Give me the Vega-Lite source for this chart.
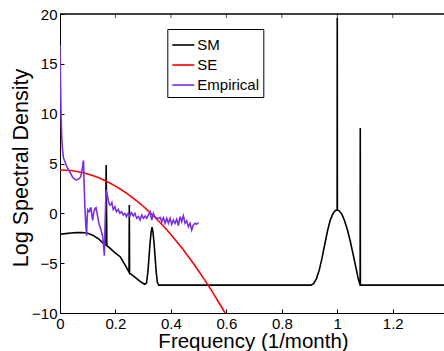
{
  "$schema": "https://vega.github.io/schema/vega-lite/v6.json",
  "width": 384,
  "height": 299,
  "autosize": {"type": "none"},
  "padding": {"left": 60, "top": 14, "right": 0, "bottom": 38},
  "background": "white",
  "config": {
    "font": "Liberation Sans",
    "view": {"stroke": null},
    "axis": {"grid": false, "domainColor": "black", "tickColor": "black", "labelColor": "black", "titleColor": "black", "titleFontWeight": "normal", "labelFontSize": 15, "domainWidth": 1, "tickWidth": 1},
    "legend": {"orient": "none", "legendX": 107.3, "legendY": 15, "strokeColor": "black", "fillColor": "white", "padding": 4, "symbolType": "stroke", "symbolSize": 484, "symbolStrokeWidth": 1.6, "labelFontSize": 15, "labelColor": "black", "labelOffset": 2, "rowPadding": 0}
  },
  "datasets": {
    "sm": [
      {"f":0,"v":-2.1},{"f":0.02,"v":-2.04},{"f":0.04,"v":-1.98},{"f":0.06,"v":-1.94},{"f":0.08,"v":-1.93},{"f":0.1,"v":-2.0},{"f":0.12,"v":-2.22},{"f":0.14,"v":-2.58},{"f":0.155,"v":-2.98},{"f":0.164,"v":-3.15},{"f":0.1665,"v":4.85},{"f":0.169,"v":-3.25},{"f":0.18,"v":-3.5},{"f":0.2,"v":-4.0},{"f":0.217,"v":-4.35},{"f":0.235,"v":-5.2},{"f":0.249,"v":-5.9},{"f":0.25,"v":0.83},{"f":0.251,"v":-6.0},{"f":0.27,"v":-6.4},{"f":0.29,"v":-6.86},{"f":0.305,"v":-7.12},{"f":0.312,"v":-7.0},{"f":0.317,"v":-5.9},{"f":0.321,"v":-4.4},{"f":0.325,"v":-2.9},{"f":0.329,"v":-1.8},{"f":0.332,"v":-1.4},{"f":0.335,"v":-1.8},{"f":0.339,"v":-2.9},{"f":0.343,"v":-4.4},{"f":0.347,"v":-5.9},{"f":0.351,"v":-6.9},{"f":0.356,"v":-7.2},{"f":0.905,"v":-7.2},{"f":0.915,"v":-7.05},{"f":0.925,"v":-6.55},{"f":0.935,"v":-5.7},{"f":0.945,"v":-4.5},{"f":0.955,"v":-3.1},{"f":0.965,"v":-1.75},{"f":0.975,"v":-0.65},{"f":0.985,"v":0.0},{"f":0.993,"v":0.28},{"f":0.9995,"v":0.33},{"f":1.0,"v":19.6},{"f":1.0005,"v":0.33},{"f":1.007,"v":0.25},{"f":1.017,"v":-0.1},{"f":1.027,"v":-0.8},{"f":1.037,"v":-1.7},{"f":1.047,"v":-2.8},{"f":1.057,"v":-4.1},{"f":1.067,"v":-5.4},{"f":1.076,"v":-6.6},{"f":1.0825,"v":-7.2},{"f":1.083,"v":8.56},{"f":1.0835,"v":-7.2},{"f":1.385,"v":-7.2}
    ],
    "se": [
      {"f":0,"v":4.35},{"f":0.02,"v":4.33},{"f":0.04,"v":4.29},{"f":0.06,"v":4.2},{"f":0.08,"v":4.09},{"f":0.1,"v":3.95},{"f":0.12,"v":3.77},{"f":0.14,"v":3.56},{"f":0.16,"v":3.31},{"f":0.18,"v":3.04},{"f":0.2,"v":2.73},{"f":0.22,"v":2.39},{"f":0.24,"v":2.02},{"f":0.26,"v":1.61},{"f":0.28,"v":1.18},{"f":0.3,"v":0.71},{"f":0.32,"v":0.2},{"f":0.34,"v":-0.33},{"f":0.36,"v":-0.9},{"f":0.38,"v":-1.5},{"f":0.4,"v":-2.13},{"f":0.42,"v":-2.79},{"f":0.44,"v":-3.49},{"f":0.46,"v":-4.22},{"f":0.48,"v":-4.98},{"f":0.5,"v":-5.78},{"f":0.52,"v":-6.6},{"f":0.54,"v":-7.46},{"f":0.56,"v":-8.35},{"f":0.58,"v":-9.27},{"f":0.6,"v":-10.23}
    ],
    "emp": [
      {"f":0,"v":16.9},{"f":0.002,"v":13.0},{"f":0.004,"v":9.6},{"f":0.006,"v":7.8},{"f":0.009,"v":6.4},{"f":0.013,"v":5.5},{"f":0.018,"v":5.2},{"f":0.022,"v":4.85},{"f":0.028,"v":4.5},{"f":0.034,"v":4.2},{"f":0.04,"v":3.9},{"f":0.046,"v":3.6},{"f":0.052,"v":3.45},{"f":0.058,"v":3.35},{"f":0.064,"v":3.4},{"f":0.07,"v":3.5},{"f":0.075,"v":3.7},{"f":0.08,"v":4.4},{"f":0.083,"v":5.1},{"f":0.085,"v":5.3},{"f":0.087,"v":3.0},{"f":0.09,"v":0.5},{"f":0.093,"v":-1.2},{"f":0.096,"v":-2.25},{"f":0.098,"v":-0.5},{"f":0.1,"v":0.33},{"f":0.103,"v":0.2},{"f":0.106,"v":0.16},{"f":0.109,"v":0.5},{"f":0.112,"v":0.53},{"f":0.115,"v":-0.2},{"f":0.118,"v":-0.7},{"f":0.121,"v":0.0},{"f":0.124,"v":0.33},{"f":0.127,"v":0.5},{"f":0.13,"v":0.56},{"f":0.133,"v":0.1},{"f":0.136,"v":-0.34},{"f":0.139,"v":-0.8},{"f":0.142,"v":-1.17},{"f":0.145,"v":-1.4},{"f":0.148,"v":-1.68},{"f":0.151,"v":-2.0},{"f":0.154,"v":-2.35},{"f":0.157,"v":-3.2},{"f":0.16,"v":-4.25},{"f":0.163,"v":-1.0},{"f":0.166,"v":2.34},{"f":0.168,"v":2.2},{"f":0.171,"v":1.8},{"f":0.174,"v":1.33},{"f":0.177,"v":1.0},{"f":0.18,"v":0.83},{"f":0.184,"v":0.9},{"f":0.187,"v":1.07},{"f":0.19,"v":0.6},{"f":0.192,"v":0.4},{"f":0.195,"v":0.55},{"f":0.198,"v":0.67},{"f":0.201,"v":0.35},{"f":0.204,"v":0.16},{"f":0.207,"v":0.3},{"f":0.21,"v":0.4},{"f":0.213,"v":0.2},{"f":0.216,"v":0.0},{"f":0.219,"v":0.1},{"f":0.222,"v":0.16},{"f":0.225,"v":0.0},{"f":0.228,"v":-0.17},{"f":0.231,"v":-0.05},{"f":0.234,"v":0.0},{"f":0.237,"v":-0.15},{"f":0.24,"v":-0.33},{"f":0.243,"v":-0.1},{"f":0.246,"v":0.0},{"f":0.249,"v":-0.15},{"f":0.252,"v":-0.27},{"f":0.255,"v":-0.05},{"f":0.258,"v":0.07},{"f":0.261,"v":-0.1},{"f":0.264,"v":-0.27},{"f":0.267,"v":-0.1},{"f":0.27,"v":0.0},{"f":0.273,"v":-0.25},{"f":0.277,"v":-0.5},{"f":0.28,"v":-0.4},{"f":0.283,"v":-0.33},{"f":0.286,"v":-0.5},{"f":0.289,"v":-0.67},{"f":0.292,"v":-0.4},{"f":0.295,"v":-0.17},{"f":0.298,"v":-0.35},{"f":0.301,"v":-0.5},{"f":0.304,"v":-0.4},{"f":0.307,"v":-0.27},{"f":0.31,"v":-0.4},{"f":0.313,"v":-0.5},{"f":0.316,"v":-0.3},{"f":0.319,"v":-0.17},{"f":0.322,"v":0.0},{"f":0.325,"v":0.16},{"f":0.328,"v":-0.3},{"f":0.331,"v":-0.67},{"f":0.334,"v":-0.3},{"f":0.337,"v":0.0},{"f":0.34,"v":-0.2},{"f":0.343,"v":-0.33},{"f":0.346,"v":-0.45},{"f":0.349,"v":-0.57},{"f":0.352,"v":-0.5},{"f":0.355,"v":-0.5},{"f":0.358,"v":-0.45},{"f":0.361,"v":-0.4},{"f":0.364,"v":-0.6},{"f":0.367,"v":-0.84},{"f":0.37,"v":-0.6},{"f":0.373,"v":-0.43},{"f":0.376,"v":-0.7},{"f":0.379,"v":-1.0},{"f":0.382,"v":-0.75},{"f":0.385,"v":-0.5},{"f":0.388,"v":-0.75},{"f":0.391,"v":-1.0},{"f":0.394,"v":-0.75},{"f":0.397,"v":-0.5},{"f":0.4,"v":-0.8},{"f":0.403,"v":-1.1},{"f":0.406,"v":-0.9},{"f":0.409,"v":-0.67},{"f":0.412,"v":-0.85},{"f":0.415,"v":-1.0},{"f":0.418,"v":-0.8},{"f":0.421,"v":-0.6},{"f":0.424,"v":-0.9},{"f":0.427,"v":-1.24},{"f":0.43,"v":-0.8},{"f":0.433,"v":-0.33},{"f":0.436,"v":-0.6},{"f":0.439,"v":-0.84},{"f":0.442,"v":-0.5},{"f":0.445,"v":-0.24},{"f":0.448,"v":-0.6},{"f":0.451,"v":-1.0},{"f":0.454,"v":-0.9},{"f":0.457,"v":-0.77},{"f":0.46,"v":-1.05},{"f":0.463,"v":-1.34},{"f":0.466,"v":-1.15},{"f":0.469,"v":-1.0},{"f":0.472,"v":-1.35},{"f":0.475,"v":-1.68},{"f":0.478,"v":-1.4},{"f":0.481,"v":-1.17},{"f":0.484,"v":-1.1},{"f":0.487,"v":-1.0},{"f":0.49,"v":-1.05},{"f":0.493,"v":-1.1},{"f":0.496,"v":-1.0},{"f":0.5,"v":-0.95}
    ],
    "topticks": [{"f":0},{"f":0.2},{"f":0.4},{"f":0.6},{"f":0.8},{"f":1.0},{"f":1.2}],
    "frame": [{"f":0,"v":20},{"f":1.385,"v":20}]
  },
  "layer": [
    {
      "data": {"name": "frame"},
      "mark": {"type": "line", "color": "black", "strokeWidth": 1.5},
      "encoding": {
        "x": {"field": "f", "type": "quantitative", "scale": {"domain": [0, 1.385], "nice": false, "zero": false},
          "axis": {"orient": "bottom", "values": [0, 0.2, 0.4, 0.6, 0.8, 1, 1.2], "format": "~g", "tickSize": -4, "labelPadding": 7, "labelFlush": false, "labelOverlap": false, "title": "Frequency (1/month)", "titleFontSize": 20.5, "titleX": 193, "titleY": 34, "titleBaseline": "alphabetic"}},
        "y": {"field": "v", "type": "quantitative", "scale": {"domain": [-10, 20], "nice": false, "zero": false},
          "axis": {"values": [-10, -5, 0, 5, 10, 15, 20], "format": "~g", "tickSize": -4, "labelPadding": 7, "title": "Log Spectral Density", "titleFontSize": 21.5, "titleX": -32.5, "titleY": 153.5, "titleBaseline": "alphabetic"}}
      }
    },
    {
      "data": {"name": "topticks"},
      "mark": {"type": "tick", "orient": "vertical", "color": "black", "size": 8, "thickness": 1, "clip": true},
      "encoding": {
        "x": {"field": "f", "type": "quantitative"},
        "y": {"datum": 20}
      }
    },
    {
      "data": {"name": "sm"},
      "mark": {"type": "line", "strokeWidth": 1.6, "clip": true},
      "encoding": {
        "x": {"field": "f", "type": "quantitative"},
        "y": {"field": "v", "type": "quantitative"},
        "color": {"datum": "SM", "type": "nominal", "scale": {"domain": ["SM", "SE", "Empirical"], "range": ["black", "#ff0000", "#7b2fe8"]}, "legend": {"title": null}}
      }
    },
    {
      "data": {"name": "se"},
      "mark": {"type": "line", "strokeWidth": 1.6, "clip": true},
      "encoding": {
        "x": {"field": "f", "type": "quantitative"},
        "y": {"field": "v", "type": "quantitative"},
        "color": {"datum": "SE", "type": "nominal"}
      }
    },
    {
      "data": {"name": "emp"},
      "mark": {"type": "line", "strokeWidth": 1.6, "clip": true},
      "encoding": {
        "x": {"field": "f", "type": "quantitative"},
        "y": {"field": "v", "type": "quantitative"},
        "color": {"datum": "Empirical", "type": "nominal"}
      }
    }
  ]
}
